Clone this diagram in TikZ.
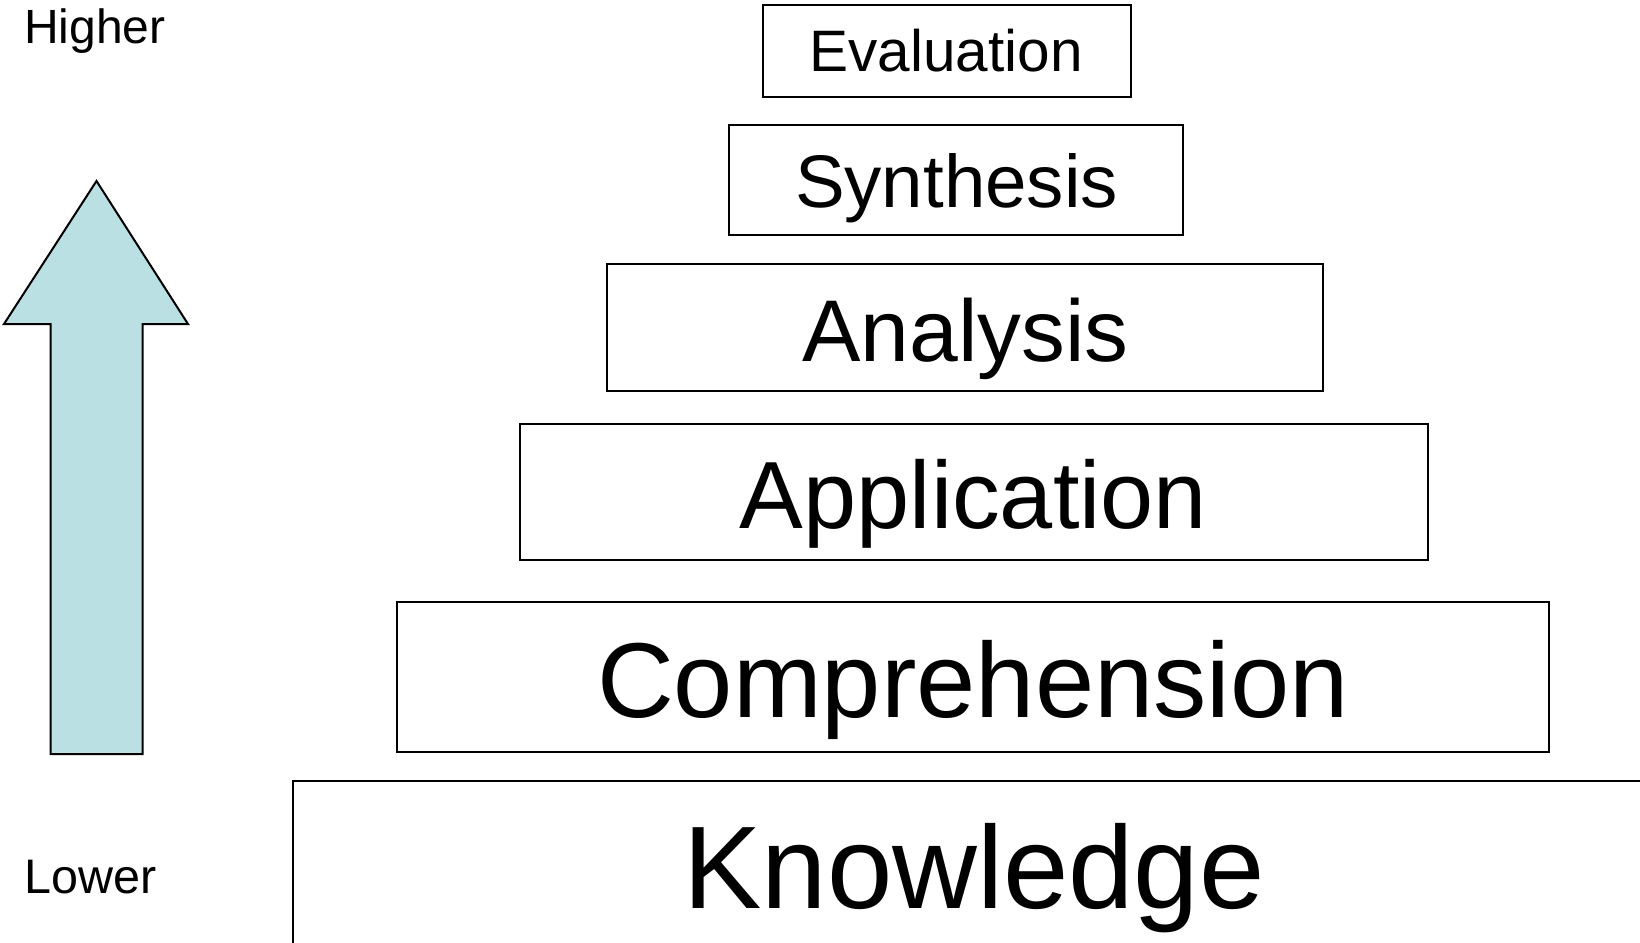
\documentclass[tikz,border=0pt]{standalone}
\usepackage{fontspec}
\setmainfont{Liberation Sans}
\definecolor{arrowblue}{RGB}{187,224,228}
\begin{document}
\begin{tikzpicture}[x=1pt,y=-1pt,
  lvl/.style={draw=black, line width=2pt, fill=white, inner sep=0pt, outer sep=0pt},
  word/.style={anchor=base, inner sep=0pt, text=black},
  arrowshape/.style={draw=black, line width=2pt, fill=arrowblue, line join=miter}]
\useasboundingbox (0,0) rectangle (1640,942);
\clip (0,0) rectangle (1640,942);
\fill[white] (0,0) rectangle (1640,942);

% arrow
\draw[arrowshape] (96.5,181) -- (188,324) -- (142.7,324) -- (142.7,754)
  -- (50.7,754) -- (50.7,324) -- (4,324) -- cycle;
\node[word, font=\fontsize{48}{57}\selectfont] (higher) at (95,43.3) {Higher};
\node[word, font=\fontsize{48.5}{57}\selectfont] (lower) at (90.5,893.3) {Lower};

% levels
\node[lvl, minimum width=367.1pt, minimum height=92.1pt] (eval) at (947,51.25) {};
\node[lvl, minimum width=454pt, minimum height=110.8pt] (synth) at (956,179.9) {};
\node[lvl, minimum width=716.4pt, minimum height=127.6pt] (anal) at (964.8,327.4) {};
\node[lvl, minimum width=907.8pt, minimum height=136pt] (appl) at (973.7,491.6) {};
\node[lvl, minimum width=1151.6pt, minimum height=149.6pt] (comp) at (973.2,677.2) {};
\node[lvl, minimum width=1500pt, minimum height=400pt, anchor=north west] (know) at (292.8,781.3) {};

\node[word, font=\fontsize{58.5}{70}\selectfont] (evalt) at (946,71.7) {Evaluation};
\node[word, font=\fontsize{74.5}{90}\selectfont] (syntht) at (956.5,207) {Synthesis};
\node[word, font=\fontsize{87.6}{106}\selectfont] (analt) at (965.5,361) {Analysis};
\node[word, font=\fontsize{95.5}{115}\selectfont] (applt) at (973.5,528) {Application};
\node[word, font=\fontsize{106.5}{128}\selectfont] (compt) at (973,717.5) {Comprehension};
\node[word, font=\fontsize{117.5}{140}\selectfont] (knowt) at (974,908) {Knowledge};
\end{tikzpicture}
\end{document}
